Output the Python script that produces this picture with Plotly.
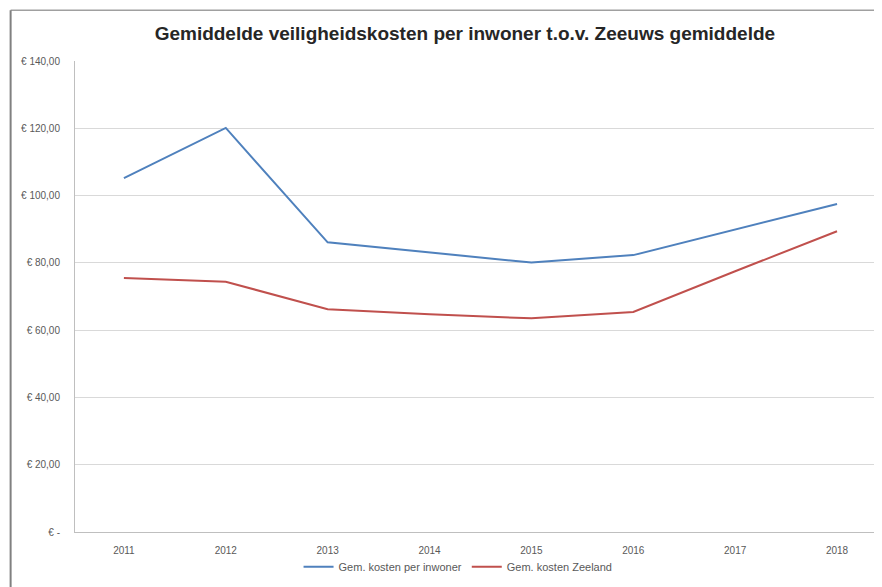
import plotly.graph_objects as go

# data
years = ["2011", "2012", "2013", "2014", "2015", "2016", "2017", "2018"]
kosten_inwoner = [105.2, 120.1, 86.1, 83.1, 80.1, 82.3, 90.0, 97.5]
kosten_zeeland = [75.5, 74.4, 66.2, 64.7, 63.5, 65.4, 77.5, 89.4]
y_ticks = [0, 20, 40, 60, 80, 100, 120, 140]
y_labels = ["€ -", "€ 20,00", "€ 40,00", "€ 60,00", "€ 80,00", "€ 100,00", "€ 120,00", "€ 140,00"]

fig = go.Figure()
fig.add_trace(go.Scatter(x=years, y=kosten_inwoner, mode="lines", name="Gem. kosten per inwoner",
                         line=dict(color="#4F81BD", width=2)))
fig.add_trace(go.Scatter(x=years, y=kosten_zeeland, mode="lines", name="Gem. kosten Zeeland",
                         line=dict(color="#C0504D", width=2)))

# the page has an 8px body margin, so everything is placed 8px up/left of the target
fig.update_layout(
    width=882, height=587,
    margin=dict(l=67, r=0, t=53, b=63, autoexpand=False),
    paper_bgcolor="white", plot_bgcolor="white",
    font=dict(family="Liberation Sans", color="#595959", size=10),
    title=dict(text="<b>Gemiddelde veiligheidskosten per inwoner t.o.v. Zeeuws gemiddelde</b>",
               x=0.518, xanchor="center", y=0.957, yanchor="middle",
               font=dict(family="Liberation Sans", size=19, color="#262626")),
    showlegend=True,
    legend=dict(orientation="h", x=0.47, xanchor="center", y=-0.074, yanchor="middle",
                bgcolor="rgba(0,0,0,0)",
                font=dict(size=11, color="#595959"), itemwidth=30, tracegroupgap=0),
)
fig.update_xaxes(type="category", range=[-0.48, 7.52], showgrid=False,
                 showline=True, linecolor="#BFBFBF", linewidth=1, automargin=False,
                 ticks="", ticklabelstandoff=9, zeroline=False)
fig.update_yaxes(range=[0, 140], tickvals=y_ticks, ticktext=y_labels,
                 showgrid=True, gridcolor="#D9D9D9", gridwidth=1, automargin=False,
                 showline=True, linecolor="#BFBFBF", linewidth=1,
                 ticks="", ticklabelstandoff=12, zeroline=False)

# outer chart border (left and top edge visible in the reference)
fig.add_shape(type="line", xref="paper", yref="paper", x0=-0.079, x1=1.02, y0=1.108, y1=1.108,
              line=dict(color="#A0A0A0", width=1.5))
fig.add_shape(type="line", xref="paper", yref="paper", x0=-0.079, x1=-0.079, y0=1.108, y1=-0.13,
              line=dict(color="#808080", width=2))

fig.write_html("out.html")
